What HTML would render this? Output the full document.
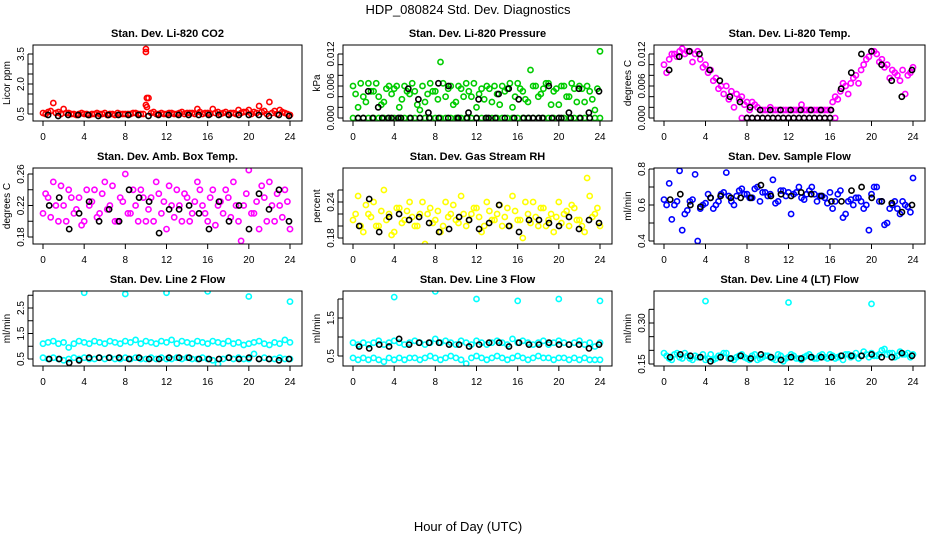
<!DOCTYPE html>
<html><head><meta charset="utf-8">
<style>
html,body{margin:0;padding:0;background:#fff;}
svg{display:block;font-family:"Liberation Sans",Arial,sans-serif;}
</style></head>
<body>
<svg id="chart" width="936" height="540" viewBox="0 0 936 540">
<text x="468" y="14" text-anchor="middle" font-size="13">HDP_080824  Std. Dev. Diagnostics</text>
<text x="468" y="531" text-anchor="middle" font-size="13">Hour of Day (UTC)</text>
</svg>
<script>
const xTicks = [0,4,8,12,16,20,24];

const co2Red = [0.55,0.6,1.05,0.6,0.75,0.55,0.5,0.5,0.5,0.45,0.5,0.5,0.55,0.5,0.45,0.5,0.5,0.5,0.55,0.5,0.95,0.55,0.5,0.55,0.5,0.55,0.5,0.6,0.55,0.55,0.75,0.5,0.55,0.75,0.6,0.55,0.5,0.55,0.7,0.6,0.7,0.6,0.9,0.65,1.1,0.65,0.7,0.55,0.45];
const co2Red2 = [0.5,0.65,0.55,0.5,0.55,0.5,0.45,0.55,0.5,0.5,0.55,0.5,0.45,0.5,0.55,0.5,0.5,0.55,0.5,0.5,1.3,0.6,0.5,0.5,0.55,0.5,0.55,0.5,0.55,0.5,0.6,0.55,0.5,0.55,0.5,0.6,0.55,0.5,0.55,0.6,0.5,0.55,0.6,0.5,0.55,0.5,0.6,0.5];
const co2OutX = [10,10,10.1,10.1];
const co2OutY = [3.6,3.75,1.3,0.85];
const co2Black = [0.45,0.4,0.45,0.45,0.45,0.4,0.45,0.45,0.45,0.45,0.4,0.45,0.45,0.45,0.45,0.45,0.45,0.45,0.45,0.45,0.45,0.45,0.4,0.45,0.4];

const presGreen = [0.006,0.002,0.004,0.0065,0.005,0.004,0.003,0.006,0.0055,0.002,0.006,0.0045,0.005,0.0015,0.003,0.0065,0.005,0.0105,0.004,0.006,0.003,0.0055,0.0065,0.004,0.002,0.0055,0.006,0.003,0.0045,0.006,0.0055,0.002,0.0065,0.005,0.003,0.006,0.004,0.0055,0.0065,0.005,0.0025,0.006,0.004,0.0055,0.006,0.003,0.005,0.0015,0.0125];
const presGreen2 = [0.0045,0.0065,0.003,0.005,0.0065,0.0025,0.0055,0.0045,0.006,0.0035,0.005,0.0065,0.0025,0.006,0.0045,0.005,0.0035,0.0065,0.0055,0.0025,0.006,0.004,0.005,0.0065,0.0045,0.0035,0.0055,0.006,0.0025,0.005,0.0065,0.004,0.0055,0.0035,0.009,0.006,0.0045,0.0065,0.0025,0.0055,0.006,0.004,0.0065,0.003,0.0055,0.006,0.0035,0.0055];
const presZero = [0,0,0,0,0,0,0,0,0,0,0,0,0,0,0,0,0,0,0,0,0,0,0,0,0,0,0,0,0,0,0,0,0,0,0,0,0,0,0,0,0,0,0,0,0,0,0,0,0];
const presBlack = [0,0.005,0.002,0,0,0.0055,0.0035,0.001,0.0065,0.006,0,0.001,0.0035,0,0.0045,0.0055,0.0035,0,0,0.006,0,0.001,0.0055,0.001,0.005];
const presBlack2 = [0,0,0,0,0,0,0,0,0,0,0,0,0,0,0,0,0,0,0,0,0,0,0,0,0];

const tempMag = [0.010,0.011,0.012,0.0125,0.012,0.0125,0.012,0.011,0.010,0.009,0.0075,0.006,0.006,0.005,0.0045,0.004,0.003,0.003,0.002,0.0015,0.0015,0.0015,0.0015,0.0015,0.0015,0.0015,0.0015,0.0015,0.0015,0.0015,0.0015,0.0015,0.0015,0.004,0.005,0.006,0.0065,0.008,0.009,0.011,0.0125,0.012,0.011,0.010,0.009,0.008,0.009,0.008,0.0095];
const tempMag2 = [0.0085,0.012,0.0115,0.013,0.0125,0.0105,0.0125,0.0095,0.0085,0.007,0.0055,0.0045,0.0035,0.002,0.0035,0.0025,0.0015,0.0025,0.0015,0.0015,0.002,0.0015,0.0015,0.0015,0.0015,0.0015,0.0025,0.0015,0.0015,0.0015,0.0015,0.0015,0.003,0.0035,0.0065,0.0045,0.0075,0.0065,0.01,0.0115,0.0125,0.0105,0.0095,0.0075,0.0085,0.007,0.0045,0.0085];
const tempZero = [0,0,0,0,0,0,0,0,0,0,0,0,0,0,0,0,0,0,0];
const tempBlack = [0.009,0.0115,0.0125,0.012,0.009,0.007,0.004,0.003,0.002,0.0015,0.0015,0.0015,0.0015,0.0015,0.0015,0.0015,0.0015,0.0055,0.0085,0.012,0.0125,0.010,0.007,0.004,0.009];
const tempBlack2 = [0,0,0,0,0,0,0,0,0,0,0,0,0,0,0,0,0];

const ambMag = [0.21,0.23,0.25,0.20,0.22,0.24,0.21,0.23,0.20,0.22,0.24,0.21,0.25,0.22,0.20,0.23,0.26,0.21,0.22,0.24,0.20,0.23,0.25,0.21,0.19,0.22,0.24,0.20,0.23,0.21,0.25,0.22,0.20,0.24,0.22,0.21,0.23,0.25,0.20,0.22,0.265,0.21,0.19,0.23,0.25,0.20,0.22,0.24,0.19];
const ambMag2 = [0.235,0.205,0.22,0.245,0.2,0.23,0.215,0.195,0.24,0.225,0.205,0.235,0.215,0.245,0.2,0.225,0.21,0.24,0.2,0.23,0.215,0.2,0.235,0.225,0.245,0.205,0.22,0.235,0.2,0.225,0.24,0.21,0.23,0.195,0.225,0.24,0.205,0.22,0.175,0.235,0.21,0.225,0.245,0.2,0.22,0.235,0.205,0.225];
const ambBlack = [0.22,0.23,0.19,0.21,0.225,0.20,0.215,0.20,0.24,0.23,0.225,0.185,0.215,0.215,0.22,0.21,0.19,0.225,0.20,0.22,0.19,0.235,0.215,0.24,0.20];

const rhY = [0.21,0.25,0.19,0.22,0.24,0.20,0.26,0.22,0.19,0.23,0.21,0.24,0.20,0.22,0.17,0.23,0.21,0.19,0.24,0.22,0.21,0.25,0.20,0.22,0.23,0.19,0.24,0.21,0.22,0.20,0.23,0.25,0.21,0.18,0.22,0.24,0.20,0.23,0.21,0.19,0.24,0.22,0.20,0.23,0.21,0.19,0.25,0.22,0.20];
const rhY2 = [0.22,0.2,0.235,0.215,0.2,0.225,0.21,0.185,0.23,0.205,0.225,0.215,0.2,0.24,0.22,0.205,0.225,0.2,0.215,0.235,0.205,0.22,0.21,0.23,0.215,0.2,0.225,0.21,0.235,0.215,0.2,0.225,0.21,0.24,0.205,0.215,0.23,0.2,0.22,0.215,0.205,0.225,0.235,0.21,0.2,0.28,0.215,0.23];
const rhBlack = [0.20,0.245,0.19,0.215,0.22,0.21,0.215,0.205,0.19,0.195,0.215,0.21,0.195,0.205,0.235,0.20,0.19,0.21,0.21,0.205,0.20,0.215,0.195,0.21,0.205];

const flowB = [0.63,0.72,0.60,0.79,0.55,0.62,0.77,0.58,0.61,0.64,0.60,0.66,0.78,0.62,0.65,0.69,0.66,0.64,0.70,0.67,0.65,0.74,0.62,0.68,0.67,0.66,0.70,0.63,0.68,0.66,0.65,0.64,0.67,0.62,0.68,0.55,0.63,0.64,0.62,0.60,0.66,0.70,0.62,0.50,0.60,0.58,0.62,0.59,0.75];
const flowB2 = [0.60,0.52,0.62,0.46,0.57,0.63,0.40,0.60,0.66,0.58,0.62,0.67,0.65,0.60,0.68,0.66,0.64,0.69,0.62,0.67,0.66,0.61,0.68,0.65,0.55,0.67,0.64,0.66,0.70,0.62,0.65,0.61,0.58,0.66,0.53,0.62,0.60,0.64,0.58,0.46,0.70,0.62,0.49,0.58,0.62,0.55,0.60,0.56];
const flowBlack = [0.63,0.66,0.60,0.59,0.64,0.65,0.64,0.64,0.64,0.71,0.65,0.66,0.65,0.67,0.66,0.65,0.62,0.62,0.68,0.70,0.64,0.62,0.61,0.56,0.60];

const l2Upper = [1.1,1.15,1.2,1.1,1.15,0.95,1.1,1.2,1.15,1.1,1.2,1.15,1.1,1.2,1.15,1.1,1.2,1.15,1.25,1.1,1.2,1.15,1.1,1.2,1.15,1.25,1.1,1.2,1.15,1.1,1.2,1.15,1.1,1.2,1.15,1.1,1.2,1.1,1.15,1.05,1.1,1.15,1.2,1.1,1.05,1.15,1.1,1.25,1.15];
const l2Lower = [0.55,0.5,0.55,0.5,0.45,0.5,0.55,0.5,0.55,0.5,0.5,0.55,0.5,0.55,0.5,0.5,0.55,0.5,0.55,0.5,0.5,0.55,0.5,0.55,0.5,0.5,0.55,0.5,0.55,0.5,0.5,0.55,0.5,0.45,0.3,0.5,0.55,0.5,0.55,0.5,0.5,0.7,0.5,0.55,0.5,0.5,0.55,0.5,0.5];
const l2OutX = [4,8,12,16,20,24];
const l2OutY = [3.1,3.05,3.1,3.15,2.95,2.75];
const l2Black = [0.5,0.5,0.35,0.45,0.55,0.55,0.55,0.55,0.5,0.55,0.5,0.5,0.55,0.55,0.55,0.5,0.5,0.5,0.55,0.5,0.55,0.5,0.5,0.45,0.5];

const l3Upper = [0.85,0.8,0.85,0.8,0.85,0.9,0.8,0.85,0.9,0.85,0.8,0.85,0.9,0.85,0.8,0.85,0.95,0.85,0.9,0.85,0.8,0.9,0.85,0.8,0.9,0.85,0.8,0.85,0.9,0.85,0.8,0.95,0.85,0.9,0.85,0.8,0.85,0.9,0.8,0.85,0.9,0.85,0.8,0.85,0.9,0.8,0.85,0.75,0.85];
const l3Lower = [0.45,0.4,0.45,0.4,0.45,0.4,0.35,0.45,0.4,0.45,0.4,0.45,0.45,0.4,0.45,0.5,0.45,0.4,0.45,0.5,0.45,0.4,0.3,0.45,0.5,0.45,0.4,0.45,0.5,0.45,0.4,0.45,0.5,0.45,0.4,0.45,0.5,0.45,0.45,0.4,0.45,0.45,0.4,0.45,0.4,0.45,0.4,0.4,0.4];
const l3OutX = [4,8,12,16,20,24];
const l3OutY = [2.05,2.2,2.0,1.95,2.0,1.95];
const l3Black = [0.75,0.7,0.8,0.75,0.95,0.8,0.85,0.85,0.85,0.8,0.8,0.75,0.8,0.85,0.85,0.75,0.85,0.8,0.8,0.85,0.8,0.8,0.8,0.7,0.8];

const l4Cyan = [0.19,0.17,0.185,0.175,0.19,0.17,0.18,0.175,0.165,0.185,0.17,0.18,0.19,0.17,0.175,0.185,0.17,0.18,0.165,0.175,0.18,0.17,0.185,0.16,0.175,0.18,0.17,0.175,0.185,0.17,0.18,0.175,0.185,0.17,0.18,0.185,0.175,0.19,0.18,0.185,0.19,0.18,0.2,0.185,0.19,0.18,0.185,0.19,0.185];
const l4Cyan2 = [0.18,0.165,0.19,0.17,0.18,0.165,0.175,0.185,0.17,0.165,0.18,0.19,0.17,0.165,0.18,0.175,0.165,0.185,0.17,0.18,0.175,0.165,0.18,0.17,0.185,0.17,0.165,0.18,0.175,0.17,0.185,0.17,0.18,0.175,0.165,0.185,0.18,0.17,0.195,0.175,0.18,0.185,0.205,0.19,0.175,0.195,0.185,0.175];
const l4OutX = [4,12,20];
const l4OutY = [0.38,0.375,0.37];
const l4Black = [0.175,0.185,0.18,0.175,0.16,0.175,0.17,0.18,0.17,0.185,0.175,0.165,0.175,0.17,0.175,0.175,0.175,0.18,0.18,0.18,0.185,0.175,0.175,0.19,0.18];

const cols = [[33,302],[343,612],[654,925]];
const rows = [[45,121],[168,244],[291,366]];
const svg = document.getElementById('chart');
const NS = 'http://www.w3.org/2000/svg';
function mk(tag, attrs, parent){const e=document.createElementNS(NS,tag);for(const k in attrs)e.setAttribute(k,attrs[k]);(parent||svg).appendChild(e);return e;}
function seq(n, x0, x1){const a=[];for(let i=0;i<n;i++)a.push(n===1?x0:x0+(x1-x0)*i/(n-1));return a;}

const panels = [
 {name:'co2',title:'Stan. Dev. Li-820 CO2',yl:'Licor ppm',r:0,c:0,v1:0.5,p1:114,v2:3.5,p2:54,ticks:[0.5,1,1.5,2,2.5,3,3.5],labels:['0.5','2.0','3.5'],labVals:[0.5,2,3.5],
  series:[{y:co2Red,col:'#ff0000',x0:0,x1:24},{y:co2Red2,col:'#ff0000',x0:0.25,x1:23.75},{y:co2OutY,xs:co2OutX,col:'#ff0000'},{y:co2Black,col:'#000',x0:0.5,x1:23.9}]},
 {name:'pressure',title:'Stan. Dev. Li-820 Pressure',yl:'kPa',r:0,c:1,v1:0,p1:118,v2:0.012,p2:54,ticks:[0,0.002,0.004,0.006,0.008,0.01,0.012],labels:['0.000','0.006','0.012'],labVals:[0,0.006,0.012],
  series:[{y:presZero,col:'#00cc00',x0:0,x1:24},{y:presGreen,col:'#00cc00',x0:0,x1:24},{y:presGreen2,col:'#00cc00',x0:0.25,x1:23.75},{y:presBlack,col:'#000',x0:0.5,x1:23.9},{y:presBlack2,col:'#000',x0:1,x1:23}]},
 {name:'li820-temp',title:'Stan. Dev. Li-820 Temp.',yl:'degrees C',r:0,c:2,v1:0,p1:118,v2:0.012,p2:54,ticks:[0,0.002,0.004,0.006,0.008,0.01,0.012],labels:['0.000','0.006','0.012'],labVals:[0,0.006,0.012],
  series:[{y:tempMag,col:'#ff00ff',x0:0,x1:24},{y:tempMag2,col:'#ff00ff',x0:0.25,x1:23.75},{y:tempZero,col:'#ff00ff',x0:7.5,x1:16.5},{y:tempBlack,col:'#000',x0:0.5,x1:23.9},{y:tempBlack2,col:'#000',x0:8,x1:16}]},
 {name:'amb-box-temp',title:'Stan. Dev. Amb. Box Temp.',yl:'degrees C',r:1,c:0,v1:0.18,p1:237,v2:0.26,p2:174,ticks:[0.18,0.2,0.22,0.24,0.26],labels:['0.18','0.22','0.26'],labVals:[0.18,0.22,0.26],
  series:[{y:ambMag,col:'#ff00ff',x0:0,x1:24},{y:ambMag2,col:'#ff00ff',x0:0.25,x1:23.75},{y:ambBlack,col:'#000',x0:0.6,x1:23.9}]},
 {name:'gas-stream-rh',title:'Stan. Dev. Gas Stream RH',yl:'percent',r:1,c:1,v1:0.18,p1:238,v2:0.24,p2:202,ticks:[0.18,0.2,0.22,0.24,0.26],labels:['0.18','0.24'],labVals:[0.18,0.24],
  series:[{y:rhY,col:'#ffff00',x0:0,x1:24},{y:rhY2,col:'#ffff00',x0:0.25,x1:23.75},{y:rhBlack,col:'#000',x0:0.6,x1:23.9}]},
 {name:'sample-flow',title:'Stan. Dev. Sample Flow',yl:'ml/min',r:1,c:2,v1:0.4,p1:241,v2:0.8,p2:169,ticks:[0.4,0.5,0.6,0.7,0.8],labels:['0.4','0.6','0.8'],labVals:[0.4,0.6,0.8],
  series:[{y:flowB,col:'#0000ff',x0:0,x1:24},{y:flowB2,col:'#0000ff',x0:0.25,x1:23.75},{y:flowBlack,col:'#000',x0:0.6,x1:23.9}]},
 {name:'line2-flow',title:'Stan. Dev. Line 2 Flow',yl:'ml/min',r:2,c:0,v1:0.5,p1:359,v2:2.5,p2:308,ticks:[0.5,1,1.5,2,2.5,3],labels:['0.5','1.5','2.5'],labVals:[0.5,1.5,2.5],
  series:[{y:l2Upper,col:'#00ffff',x0:0,x1:24},{y:l2Lower,col:'#00ffff',x0:0,x1:24},{y:l2OutY,xs:l2OutX,col:'#00ffff'},{y:l2Black,col:'#000',x0:0.6,x1:23.9}]},
 {name:'line3-flow',title:'Stan. Dev. Line 3 Flow',yl:'ml/min',r:2,c:1,v1:0.5,p1:356,v2:1.5,p2:318,ticks:[0.5,1,1.5,2],labels:['0.5','1.5'],labVals:[0.5,1.5],
  series:[{y:l3Upper,col:'#00ffff',x0:0,x1:24},{y:l3Lower,col:'#00ffff',x0:0,x1:24},{y:l3OutY,xs:l3OutX,col:'#00ffff'},{y:l3Black,col:'#000',x0:0.6,x1:23.9}]},
 {name:'line4-flow',title:'Stan. Dev. Line 4 (LT) Flow',yl:'ml/min',r:2,c:2,v1:0.15,p1:364,v2:0.30,p2:323,ticks:[0.15,0.2,0.25,0.3,0.35],labels:['0.15','0.30'],labVals:[0.15,0.3],
  series:[{y:l4Cyan,col:'#00ffff',x0:0,x1:24},{y:l4Cyan2,col:'#00ffff',x0:0.25,x1:23.75},{y:l4OutY,xs:l4OutX,col:'#00ffff'},{y:l4Black,col:'#000',x0:0.6,x1:23.9}]}
];

panels.forEach(p=>{
  const [L,R]=cols[p.c],[T,B]=rows[p.r];
  const g=mk('g',{});
  
  
  const xs=v=>L+10+(R-L-22)*v/24;
  const ys=v=>p.p1+(v-p.v1)*(p.p2-p.p1)/(p.v2-p.v1);
  const t=mk('text',{x:(L+R)/2,y:T-8,'text-anchor':'middle','font-size':11,'font-weight':'bold'},g);
  t.textContent=p.title;
  
  
  const clipId='clip-'+p.name;
  const cp=mk('clipPath',{id:clipId},g);mk('rect',{x:L,y:T,width:R-L,height:B-T},cp);
  const pts=mk('g',{'clip-path':'url(#'+clipId+')'},g);
  p.series.forEach(s=>{
    const xv=s.xs?s.xs:seq(s.y.length,s.x0,s.x1);
    s.y.forEach((v,i)=>{
      const c=mk('circle',{cx:xs(xv[i]).toFixed(1),cy:ys(v).toFixed(1),r:2.6,fill:'none',stroke:s.col,'stroke-width':1.6},pts);
      
      
    });
  });
  const box=mk('rect',{x:L,y:T,width:R-L,height:B-T,fill:'none',stroke:'#000','stroke-width':1},g);
  
  
  mk('line',{x1:xs(0),x2:xs(24),y1:B+5,y2:B+5,stroke:'#000','stroke-width':0},g);
  xTicks.forEach(v=>{
    mk('line',{x1:xs(v),x2:xs(v),y1:B,y2:B+5,stroke:'#000'},g);
    const tx=mk('text',{x:xs(v),y:B+19,'text-anchor':'middle','font-size':10},g);tx.textContent=v;
    
    
  });
  mk('line',{x1:L-5,x2:L-5,y1:ys(p.ticks[0]),y2:ys(p.ticks[p.ticks.length-1]),stroke:'#000'},g);
  p.ticks.forEach(v=>mk('line',{x1:L-5,x2:L,y1:ys(v),y2:ys(v),stroke:'#000'},g));
  p.labVals.forEach((v,i)=>{
    const yy=ys(v);
    const tx=mk('text',{x:L-9,y:yy,'text-anchor':'middle','font-size':10,transform:'rotate(-90 '+(L-9)+' '+yy+')'},g);
    tx.textContent=p.labels[i];
    
    
  });
  const yl=mk('text',{x:L-23,y:(T+B)/2,'text-anchor':'middle','font-size':10,transform:'rotate(-90 '+(L-23)+' '+((T+B)/2)+')'},g);
  yl.textContent=p.yl;
  
  
});
</script>
</body></html>
